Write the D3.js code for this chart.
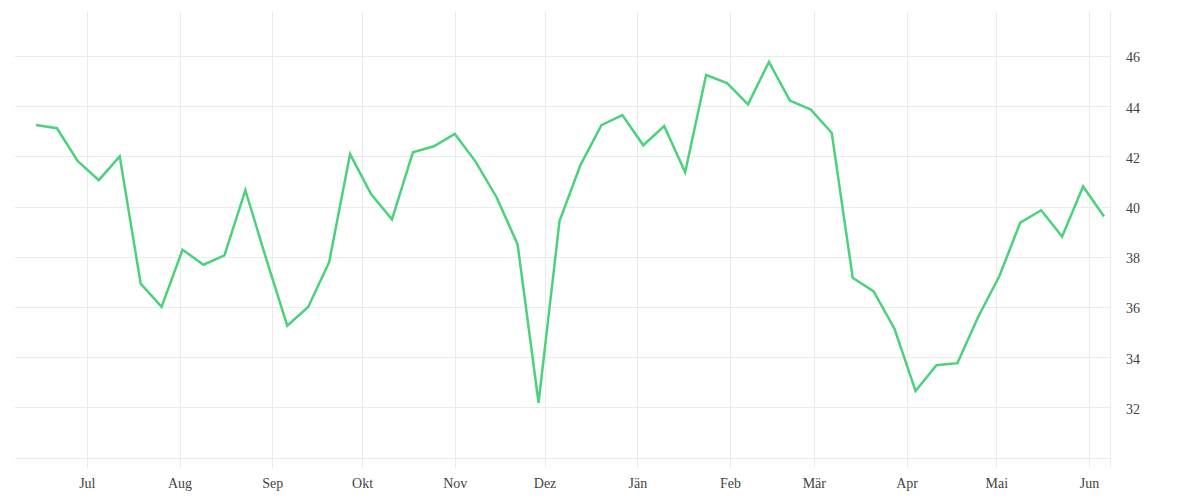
<!DOCTYPE html>
<html>
<head>
<meta charset="utf-8">
<script src="https://cdn.jsdelivr.net/npm/d3@7"></script>
<style>
  html, body { margin: 0; padding: 0; background: #fff; }
  svg { display: block; }
  text { font-family: "Liberation Serif", "DejaVu Serif", serif; }
</style>
</head>
<body>
<svg id="chart" width="1200" height="500"></svg>
<script>
// ---- data ----
const dates = [
  "2022-06-14","2022-06-21","2022-06-28","2022-07-05","2022-07-12","2022-07-19","2022-07-26",
  "2022-08-02","2022-08-09","2022-08-16","2022-08-23","2022-08-30","2022-09-06","2022-09-13",
  "2022-09-20","2022-09-27","2022-10-04","2022-10-11","2022-10-18","2022-10-25","2022-11-01",
  "2022-11-08","2022-11-15","2022-11-22","2022-11-29","2022-12-06","2022-12-13","2022-12-20",
  "2022-12-27","2023-01-03","2023-01-10","2023-01-17","2023-01-24","2023-01-31","2023-02-07",
  "2023-02-14","2023-02-21","2023-02-28","2023-03-07","2023-03-14","2023-03-21","2023-03-28",
  "2023-04-04","2023-04-11","2023-04-18","2023-04-25","2023-05-02","2023-05-09","2023-05-16",
  "2023-05-23","2023-05-30","2023-06-06"
];
const values = [
  43.25, 43.12, 41.81, 41.05, 42.0, 36.93, 36.0,
  38.28, 37.68, 38.05, 40.65, 37.9, 35.25, 36.0,
  37.78, 42.09, 40.5, 39.49, 42.16, 42.4, 42.89,
  41.78, 40.36, 38.49, 32.18, 39.42, 41.65, 43.24,
  43.64, 42.44, 43.2, 41.36, 45.24, 44.92, 44.07,
  45.76, 44.22, 43.86, 42.93, 37.16, 36.62, 35.12,
  32.65, 33.68, 33.76, 35.62, 37.22, 39.36, 39.85,
  38.8, 40.8, 39.6
];
const monthTicks = ["2022-07-01","2022-08-01","2022-09-01","2022-10-01","2022-11-01","2022-12-01",
  "2023-01-01","2023-02-01","2023-03-01","2023-04-01","2023-05-01","2023-06-01"];
const monthLabels = ["Jul","Aug","Sep","Okt","Nov","Dez","Jän","Feb","Mär","Apr","Mai","Jun"];
const yTicks = [32, 34, 36, 38, 40, 42, 44, 46];
const yGrid = [30, 32, 34, 36, 38, 40, 42, 44, 46];
const xDomain = ["2022-06-07", "2023-06-08"];
const yDomain = [30, 47.75];

// ---- chart ----
const parse = d3.utcParse("%Y-%m-%d");
const data = dates.map((d, i) => ({ date: parse(d), value: values[i] }));
const mLeft = 15, mRight = 1110, mTop = 12, mBottom = 457.5;

const x = d3.scaleUtc().domain(xDomain.map(parse)).range([mLeft, mRight]);
const y = d3.scaleLinear().domain(yDomain).range([mBottom, mTop]);

const svg = d3.select("#chart");
const gridColor = "#ebebeb";

// horizontal grid
svg.append("g").selectAll("line").data(yGrid).join("line")
  .attr("x1", mLeft).attr("x2", mRight)
  .attr("y1", d => Math.round(y(d)) + 0.5).attr("y2", d => Math.round(y(d)) + 0.5)
  .attr("stroke", gridColor).attr("stroke-width", 1);

// vertical grid (months) + right border
const tickDates = monthTicks.map(parse);
svg.append("g").selectAll("line").data(tickDates).join("line")
  .attr("x1", d => Math.round(x(d)) + 0.5).attr("x2", d => Math.round(x(d)) + 0.5)
  .attr("y1", mTop).attr("y2", mBottom + 10)
  .attr("stroke", gridColor).attr("stroke-width", 1);
svg.append("line")
  .attr("x1", mRight + 0.5).attr("x2", mRight + 0.5)
  .attr("y1", mTop).attr("y2", mBottom + 10)
  .attr("stroke", gridColor).attr("stroke-width", 1);

// x axis labels
const xAxis = d3.axisBottom(x).tickValues(tickDates)
  .tickFormat((d, i) => monthLabels[i]).tickSize(0).tickPadding(0);
const gx = svg.append("g").attr("transform", `translate(0, ${mBottom + 21})`).call(xAxis);
gx.select(".domain").remove();
gx.selectAll("text").attr("font-size", 14).attr("fill", "#444")
  .attr("font-family", "Liberation Serif, DejaVu Serif, serif");

// y axis labels
const yAxis = d3.axisRight(y).tickValues(yTicks).tickFormat(d3.format("d")).tickSize(0).tickPadding(0);
const gy = svg.append("g").attr("transform", `translate(${mRight + 16}, 1.5)`).call(yAxis);
gy.select(".domain").remove();
gy.selectAll("text").attr("font-size", 14).attr("fill", "#444")
  .attr("font-family", "Liberation Serif, DejaVu Serif, serif");

// line
const line = d3.line().x(d => x(d.date)).y(d => y(d.value));
svg.append("path").datum(data)
  .attr("d", line)
  .attr("fill", "none")
  .attr("stroke", "#4cd27b")
  .attr("stroke-width", 2.5)
  .attr("stroke-linejoin", "miter")
  .attr("stroke-linecap", "butt");
</script>
</body>
</html>
